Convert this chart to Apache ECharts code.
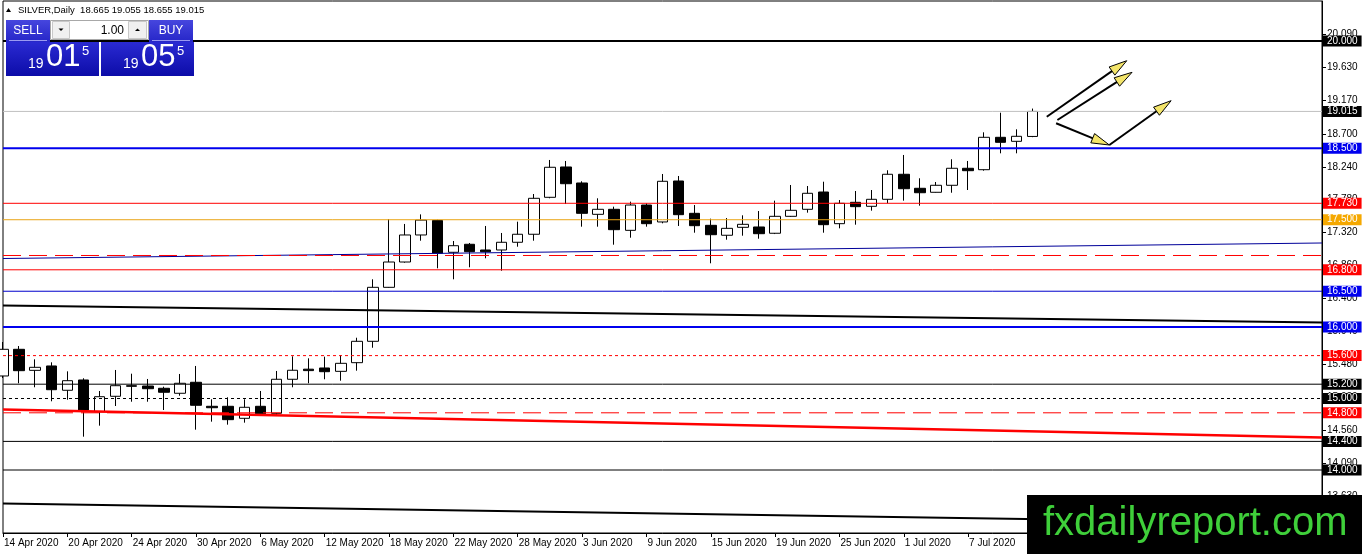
<!DOCTYPE html>
<html><head><meta charset="utf-8">
<script src="https://cdn.jsdelivr.net/npm/echarts@6/dist/echarts.min.js"></script>
<style>html,body{margin:0;padding:0;background:#fff}#c{width:1362px;height:554px}</style>
</head><body><div id="c"></div>
<script>
const dates = ['14 Apr 2020','15 Apr 2020','16 Apr 2020','17 Apr 2020','20 Apr 2020','21 Apr 2020','22 Apr 2020','23 Apr 2020','24 Apr 2020','27 Apr 2020','28 Apr 2020','29 Apr 2020','30 Apr 2020','1 May 2020','4 May 2020','5 May 2020','6 May 2020','7 May 2020','8 May 2020','11 May 2020','12 May 2020','13 May 2020','14 May 2020','15 May 2020','18 May 2020','19 May 2020','20 May 2020','21 May 2020','22 May 2020','25 May 2020','26 May 2020','27 May 2020','28 May 2020','29 May 2020','1 Jun 2020','2 Jun 2020','3 Jun 2020','4 Jun 2020','5 Jun 2020','8 Jun 2020','9 Jun 2020','10 Jun 2020','11 Jun 2020','12 Jun 2020','15 Jun 2020','16 Jun 2020','17 Jun 2020','18 Jun 2020','19 Jun 2020','22 Jun 2020','23 Jun 2020','24 Jun 2020','25 Jun 2020','26 Jun 2020','29 Jun 2020','30 Jun 2020','1 Jul 2020','2 Jul 2020','3 Jul 2020','6 Jul 2020','7 Jul 2020','8 Jul 2020','9 Jul 2020','10 Jul 2020','13 Jul 2020'];
const opens = [15.315,15.688,15.394,15.455,15.115,15.259,14.815,15.031,15.170,15.175,15.143,15.073,15.227,14.891,14.891,14.723,14.891,14.793,15.269,15.410,15.427,15.380,15.501,15.800,16.555,16.909,17.287,17.490,17.045,17.157,17.077,17.077,17.185,17.297,17.814,18.238,18.014,17.576,17.646,17.352,17.706,17.469,18.042,17.590,17.422,17.283,17.394,17.399,17.311,17.548,17.646,17.888,17.445,17.744,17.688,17.786,18.136,17.940,17.884,17.982,18.220,18.200,18.653,18.597,18.665];
const closes = [15.688,15.389,15.436,15.123,15.249,14.839,15.025,15.179,15.180,15.137,15.087,15.213,14.905,14.871,14.704,14.877,14.787,15.269,15.395,15.390,15.375,15.492,15.800,16.555,16.909,17.287,17.495,17.031,17.137,17.053,17.053,17.185,17.297,17.800,18.234,18.004,17.590,17.646,17.361,17.706,17.445,18.038,17.571,17.417,17.291,17.380,17.436,17.305,17.548,17.632,17.870,17.431,17.730,17.683,17.786,18.136,17.934,17.878,17.982,18.220,18.186,18.653,18.583,18.667,19.015];
const lows = [15.287,15.213,15.157,14.961,14.983,14.466,14.620,14.895,14.955,14.955,14.839,15.039,14.564,14.676,14.634,14.662,14.787,14.755,15.157,15.213,15.269,15.249,15.389,15.710,16.550,16.900,17.207,16.821,16.667,16.835,16.961,16.787,17.123,17.207,17.800,17.720,17.403,17.403,17.151,17.249,17.403,17.450,17.413,17.319,16.891,17.221,17.277,17.235,17.300,17.540,17.599,17.319,17.380,17.431,17.627,17.730,17.767,17.697,17.880,17.878,17.916,18.186,18.429,18.429,18.655];
const highs = [15.790,15.734,15.548,15.506,15.380,15.283,15.105,15.399,15.347,15.273,15.165,15.343,15.455,14.989,15.017,14.989,15.105,15.385,15.590,15.562,15.585,15.608,15.850,16.667,17.510,17.441,17.575,17.500,17.203,17.175,17.413,17.315,17.473,17.860,18.336,18.322,18.038,17.800,17.683,17.753,17.730,18.140,18.112,17.706,17.515,17.524,17.562,17.622,17.767,17.986,17.972,18.032,17.776,17.902,17.916,18.192,18.406,18.080,18.028,18.346,18.322,18.723,18.997,18.765,19.055];
const futureBars = 18;
const yTickValues = [20.090,19.630,19.170,18.700,18.240,17.780,17.320,16.860,16.400,15.940,15.480,15.020,14.560,14.090,13.630,13.170];
const levelPrices = [20.000,19.015,18.500,17.730,17.500,17.000,16.800,16.500,16.000,15.600,15.200,15.000,14.800,14.400,14.000];
const levelLabelled = [true,true,true,true,true,false,true,true,true,true,true,true,true,true,true];
const trendBlue = [[0,16.958],[82,17.175]];
const trendBlackUpper = [[0,16.301],[82,16.063]];
const trendRed = [[0,14.846],[82,14.455]];
const trendBlackLower = [[0,13.531],[82,13.252]];
const arrowLines = [
  [[64.89,18.941],[69.86,19.724]],
  [[65.55,18.895],[70.19,19.562]],
  [[65.47,18.849],[68.78,18.545]],
  [[68.78,18.545],[72.62,19.165]]
];
const headerText = 'SILVER,Daily  18.665 19.055 18.655 19.015';
const lotText = '1.00';
const bidParts = ['19','01','5'];
const askParts = ['19','05','5'];
const watermarkText = 'fxdailyreport.com';

const RED='#ff0000', BLUE='#0000ee', ORANGE='#eaa415', BLACK='#000';
const levelStyles = [
  {c:BLACK,w:2,t:'solid',bg:BLACK},
  {c:'#c0c0c0',w:1,t:'solid',bg:BLACK},
  {c:BLUE,w:2,t:'solid',bg:BLUE},
  {c:RED,w:1,t:'solid',bg:RED},
  {c:ORANGE,w:1,t:'solid',bg:'#f5a800'},
  {c:RED,w:1,t:[18,8],bg:RED},
  {c:RED,w:1,t:'solid',bg:RED},
  {c:'#0000cc',w:1,t:'solid',bg:BLUE},
  {c:BLUE,w:2,t:'solid',bg:BLUE},
  {c:RED,w:1,t:[3,3],bg:RED},
  {c:BLACK,w:1,t:'solid',bg:BLACK},
  {c:BLACK,w:1,t:[3,3],bg:BLACK},
  {c:RED,w:1,t:[18,8],bg:RED},
  {c:BLACK,w:1,t:'solid',bg:BLACK},
  {c:BLACK,w:1,t:'solid',bg:BLACK}
];

const FONT = 'Liberation Sans, Arial, sans-serif';
const chart = echarts.init(document.getElementById('c'), null, {renderer:'canvas'});
const xCats = dates.concat(new Array(futureBars).fill(''));
const lastX = xCats.length - 1;
const showIdx = (i) => i % 4 === 0 && i < dates.length;

const levelSeries = levelPrices.map((p,i) => ({
  type:'line', xAxisIndex:1, yAxisIndex:0, symbol:'none', silent:true, z:4, animation:false,
  data:[[0,p],[lastX,p]],
  lineStyle:{color:levelStyles[i].c, width:levelStyles[i].w, type:levelStyles[i].t},
  endLabel: levelLabelled[i] ? {show:true, distance:1, formatter:() => p.toFixed(3),
    backgroundColor:levelStyles[i].bg, color:'#fff', fontSize:10, fontFamily:FONT, padding:[1,4,0,4], lineHeight:10} : {show:false}
}));

function trendSeries(d, color, width){
  return {type:'line', xAxisIndex:1, yAxisIndex:0, data:d, symbol:'none', silent:true, z:4,
    lineStyle:{color:color, width:width}, animation:false};
}

chart.setOption({
  animation:false,
  backgroundColor:'#fff',
  grid:{left:3, right:40, top:1, bottom:21, show:true, borderColor:'#000', borderWidth:1, backgroundColor:'#fff', containLabel:false, outerBoundsMode:'none'},
  xAxis:[{
    type:'category', data:xCats, boundaryGap:false,
    axisLine:{show:true, onZero:false, lineStyle:{color:'#000', width:1}},
    axisTick:{show:true, interval:(i)=>showIdx(i), length:4, lineStyle:{color:'#000'}},
    axisLabel:{interval:(i)=>showIdx(i), align:'left', margin:5, color:'#000', fontSize:10, fontFamily:FONT, padding:[0,0,0,1]},
    splitLine:{show:false}
  },{
    type:'value', min:0, max:lastX, show:false, gridIndex:0, axisLine:{onZero:false}
  }],
  yAxis:[{
    type:'value', position:'right', min:13.1189, max:20.5594, scale:true,
    axisLine:{show:true, onZero:false, lineStyle:{color:'#000'}},
    axisTick:{show:true, length:4, customValues:yTickValues, lineStyle:{color:'#000'}},
    axisLabel:{customValues:yTickValues, formatter:(v)=>Number(v).toFixed(3), margin:5, color:'#000', fontSize:10, fontFamily:FONT},
    splitLine:{show:false}
  }],
  series:[
    {type:'candlestick', xAxisIndex:0, yAxisIndex:0, barWidth:11, silent:true, z:2,
     data: dates.map((d,i)=>[opens[i], closes[i], lows[i], highs[i]]),
     itemStyle:{color:'#fff', color0:'#000', borderColor:'#000', borderColor0:'#000', borderWidth:1}
    },
    trendSeries(trendBlue,'#000099',1),
    trendSeries(trendBlackUpper,'#000',2),
    trendSeries(trendRed,'#ff0000',2.5),
    trendSeries(trendBlackLower,'#000',2)
  ].concat(levelSeries)
});

const g = [];
arrowLines.forEach(seg => {
  const s = chart.convertToPixel({xAxisIndex:1, yAxisIndex:0}, seg[0]);
  const t = chart.convertToPixel({xAxisIndex:1, yAxisIndex:0}, seg[1]);
  const dx = t[0]-s[0], dy = t[1]-s[1], len = Math.hypot(dx,dy);
  const ux = dx/len, uy = dy/len, L = 18, W = 5;
  const bx = t[0]-ux*L, by = t[1]-uy*L, nx = -uy, ny = ux;
  g.push({type:'line', z:100, shape:{x1:s[0], y1:s[1], x2:bx+ux*3, y2:by+uy*3}, style:{stroke:'#000', lineWidth:2}});
  g.push({type:'polygon', z:101, shape:{points:[[t[0],t[1]],[bx+nx*W,by+ny*W],[bx-nx*W,by-ny*W]]}, style:{fill:'#f3e46a', stroke:'#000', lineWidth:1}});
});
g.push({type:'polygon', z:110, shape:{points:[[6,12],[11,12],[8.5,8]]}, style:{fill:'#000'}});
g.push({type:'text', z:110, x:18, y:10, style:{text:headerText, fill:'#000', font:'9.5px Liberation Sans', verticalAlign:'middle'}});
const btnGrad = {type:'linear', x:0, y:0, x2:0, y2:1, colorStops:[{offset:0,color:'#4646de'},{offset:1,color:'#2626c8'}]};
const boxGrad = {type:'linear', x:0, y:0, x2:0, y2:1, colorStops:[{offset:0,color:'#2a2ad2'},{offset:1,color:'#0c0ca8'}]};
g.push({type:'rect', z:110, shape:{x:6, y:20, width:44, height:22}, style:{fill:btnGrad}});
g.push({type:'rect', z:110, shape:{x:149, y:20, width:44, height:22}, style:{fill:btnGrad}});
g.push({type:'line', z:111, shape:{x1:9,y1:40.5,x2:47,y2:40.5}, style:{stroke:'#9a9af2', lineWidth:1}});
g.push({type:'line', z:111, shape:{x1:152,y1:40.5,x2:190,y2:40.5}, style:{stroke:'#9a9af2', lineWidth:1}});
g.push({type:'text', z:111, x:28, y:30.5, style:{text:'SELL', fill:'#fff', font:'12px Liberation Sans', align:'center', verticalAlign:'middle'}});
g.push({type:'text', z:111, x:171, y:30.5, style:{text:'BUY', fill:'#fff', font:'12px Liberation Sans', align:'center', verticalAlign:'middle'}});
g.push({type:'rect', z:110, shape:{x:50.5, y:20.5, width:98, height:19}, style:{fill:'#fff', stroke:'#a8a8a8', lineWidth:1}});
g.push({type:'rect', z:111, shape:{x:52.5, y:21.5, width:17, height:17}, style:{fill:'#f0f0f0', stroke:'#c8c8c8', lineWidth:1}});
g.push({type:'rect', z:111, shape:{x:128.5, y:21.5, width:18, height:17}, style:{fill:'#f0f0f0', stroke:'#c8c8c8', lineWidth:1}});
g.push({type:'polygon', z:112, shape:{points:[[58.5,28.5],[63.5,28.5],[61,31]]}, style:{fill:'#000'}});
g.push({type:'polygon', z:112, shape:{points:[[135,31],[140,31],[137.5,28.5]]}, style:{fill:'#000'}});
g.push({type:'text', z:111, x:124, y:30.5, style:{text:lotText, fill:'#000', font:'12px Liberation Sans', align:'right', verticalAlign:'middle'}});
g.push({type:'rect', z:110, shape:{x:6, y:42, width:93, height:34}, style:{fill:boxGrad}});
g.push({type:'rect', z:110, shape:{x:101, y:42, width:93, height:34}, style:{fill:boxGrad}});
function priceBox(x0, parts){
  g.push({type:'text', z:111, x:x0+22, y:71, style:{text:parts[0], fill:'#fff', font:'14px Liberation Sans', verticalAlign:'bottom'}});
  g.push({type:'text', z:111, x:x0+40, y:73, style:{text:parts[1], fill:'#fff', font:'31px Liberation Sans', verticalAlign:'bottom'}});
  g.push({type:'text', z:111, x:x0+76, y:45, style:{text:parts[2], fill:'#fff', font:'13px Liberation Sans', verticalAlign:'top'}});
}
priceBox(6, bidParts);
priceBox(101, askParts);
g.push({type:'rect', z:120, shape:{x:1027, y:495, width:335, height:59}, style:{fill:'#000'}});
g.push({type:'text', z:121, x:1043, y:524, style:{text:watermarkText, fill:'#3fcf3a', font:'40px Liberation Sans', verticalAlign:'middle'}});

chart.setOption({graphic:g});
</script></body></html>
